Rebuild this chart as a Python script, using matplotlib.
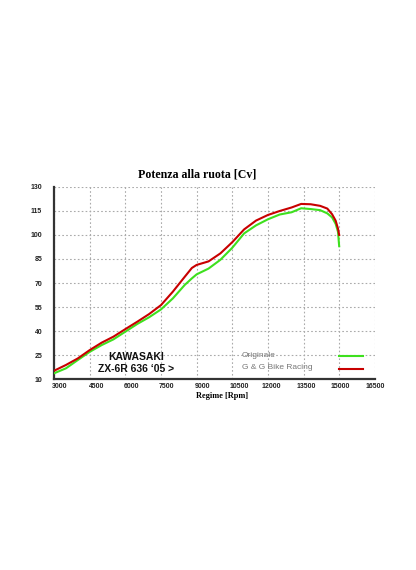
import matplotlib
matplotlib.use("Agg")
import matplotlib.pyplot as plt
from matplotlib.lines import Line2D
from matplotlib.transforms import ScaledTranslation

# rpm values and power curves
rpm = [3000, 3500, 4000, 4500, 5000, 5500, 6000, 6500, 7000, 7500,
       8000, 8500, 8800, 9000, 9500, 10000, 10500, 11000, 11500, 12000,
       12500, 13000, 13400, 13800, 14200, 14500, 14700, 14850, 14950, 15000]
ggracing = [15.2, 18.8, 22.9, 28.1, 32.7, 36.5, 41.2, 45.8, 50.6, 56.2,
            64.6, 73.9, 79.4, 81.3, 83.5, 88.5, 95.5, 103.5, 109.0, 112.5,
            115.0, 117.2, 119.4, 119.2, 118.2, 116.5, 113.0, 109.0, 104.0, 100.0]
originale = [13.6, 16.7, 21.9, 27.0, 31.2, 34.8, 39.6, 44.4, 48.6, 53.5,
             60.4, 68.8, 72.9, 75.4, 79.0, 84.5, 92.0, 101.0, 106.0, 109.8,
             112.8, 114.2, 116.7, 116.2, 115.5, 113.5, 111.0, 107.0, 102.0, 93.0]

xticks = [3000, 4500, 6000, 7500, 9000, 10500, 12000, 13500, 15000, 16500]
yticks = [10, 25, 40, 55, 70, 85, 100, 115, 130]

green = "#3ee01e"
red = "#c80000"

fig = plt.figure(figsize=(4.16, 5.70), dpi=100)
ax = fig.add_axes([0.13, 0.335, 0.771, 0.337])

ax.plot(rpm, originale, color=green, lw=1.5, zorder=3)
ax.plot(rpm, ggracing, color=red, lw=1.5, zorder=4)

ax.set_xlim(3000, 16500)
ax.set_ylim(10, 130)
ax.set_xticks(xticks)
ax.set_yticks(yticks)
ax.tick_params(length=0, labelsize=5.0)
ax.tick_params(axis="x", pad=2.5)
ax.tick_params(axis="y", pad=8.5)
for lab in ax.get_xticklabels() + ax.get_yticklabels():
    lab.set_fontweight("bold")
    lab.set_family("Liberation Sans")
    lab.set_color("#222222")

# the original software draws the x labels a bit right of their grid lines
shifts = [6, 6.5, 6, 5, 6, 7, 3, 2.5, 1, 0]
for lab, dx in zip(ax.get_xticklabels(), shifts):
    lab.set_transform(lab.get_transform() + ScaledTranslation(dx / 100, 0, fig.dpi_scale_trans))

ax.grid(True, color="#aaaaaa", linestyle=(0, (1.5, 2)), lw=0.8)
ax.spines["top"].set_visible(False)
ax.spines["right"].set_visible(False)
for s in ("left", "bottom"):
    ax.spines[s].set_color("#333333")
    ax.spines[s].set_linewidth(1.6)

# model label
ax.text(0.255, 0.115, "KAWASAKI", transform=ax.transAxes, ha="center", va="center",
        fontsize=7.5, fontweight="bold", family="Liberation Sans", color="#111111")
ax.text(0.255, 0.052, "ZX-6R 636 \u201805 >", transform=ax.transAxes, ha="center", va="center",
        fontsize=7.5, fontweight="bold", family="Liberation Sans", color="#111111")

# hand-drawn legend
ax.text(0.586, 0.12, "Originale", transform=ax.transAxes, va="center",
        fontsize=6, family="Liberation Sans", color="#777777")
ax.text(0.586, 0.059, "G & G Bike Racing", transform=ax.transAxes, va="center",
        fontsize=6, family="Liberation Sans", color="#777777")
ax.add_line(Line2D([0.888, 0.963], [0.12, 0.12], transform=ax.transAxes, color=green, lw=1.5))
ax.add_line(Line2D([0.888, 0.963], [0.054, 0.054], transform=ax.transAxes, color=red, lw=1.5))

fig.text(0.474, 0.693, "Potenza alla ruota [Cv]", ha="center", va="center",
         fontsize=8.6, fontweight="bold", family="Liberation Serif")
fig.text(0.534, 0.305, "Regime [Rpm]", ha="center", va="center",
         fontsize=6, fontweight="bold", family="Liberation Serif")

fig.savefig("out.png", dpi=100)
